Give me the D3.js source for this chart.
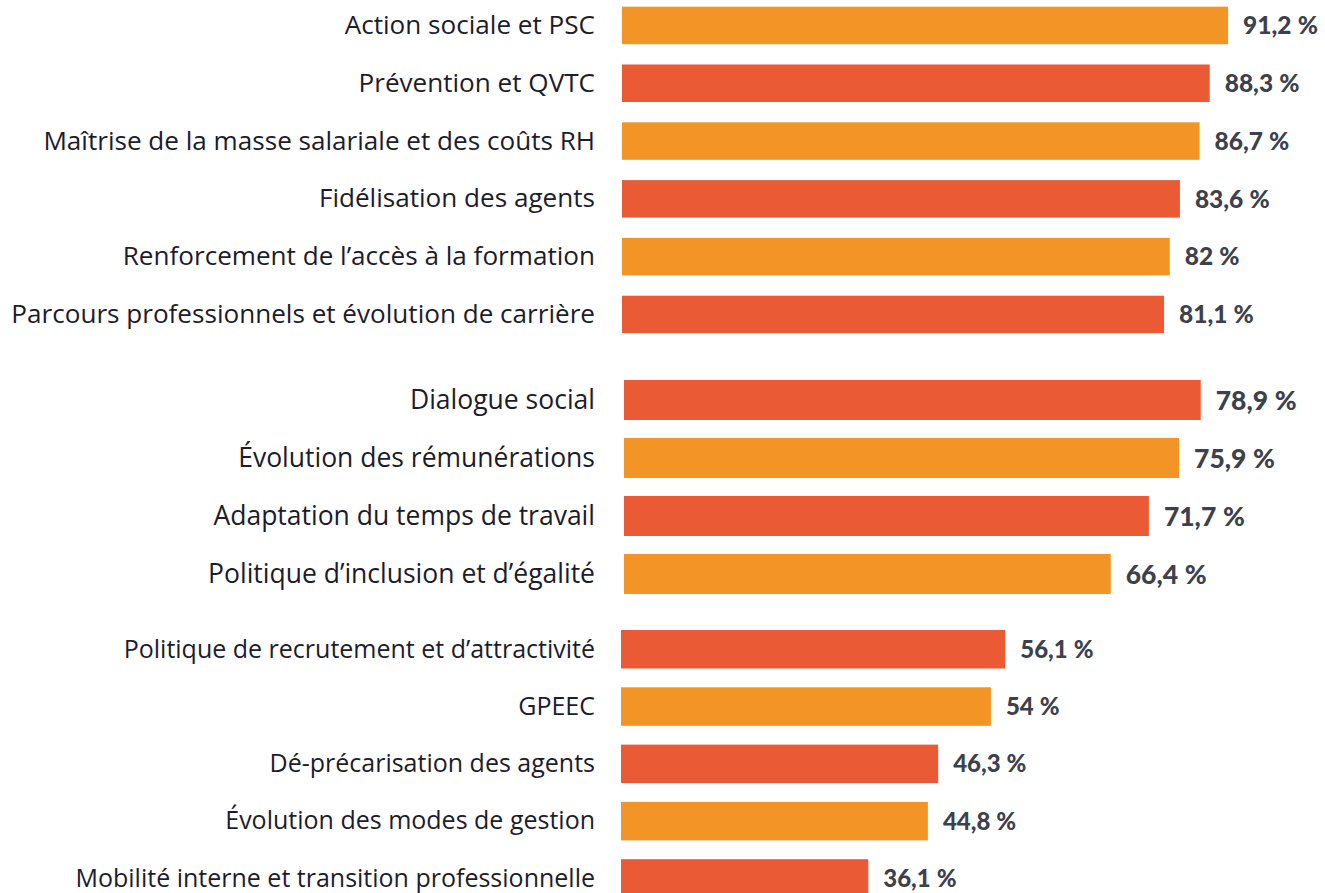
<!DOCTYPE html>
<html>
<head>
<meta charset="utf-8">
<script src="https://cdn.jsdelivr.net/npm/d3@7"></script>
<style>
  html, body { margin: 0; padding: 0; background: #fff; }
  .label { font-family: "Open Sans", "Noto Sans", sans-serif; fill: #1c1c2b; }
  .value { font-family: Lato, "Open Sans", sans-serif; font-weight: 900; fill: #3c414c; }
</style>
</head>
<body>
<div id="chart"></div>
<script>
var categories = [
  'Action sociale et PSC',
  'Prévention et QVTC',
  'Maîtrise de la masse salariale et des coûts RH',
  'Fidélisation des agents',
  'Renforcement de l\u2019accès à la formation',
  'Parcours professionnels et évolution de carrière',
  'Dialogue social',
  'Évolution des rémunérations',
  'Adaptation du temps de travail',
  'Politique d\u2019inclusion et d\u2019égalité',
  'Politique de recrutement et d\u2019attractivité',
  'GPEEC',
  'Dé-précarisation des agents',
  'Évolution des modes de gestion',
  'Mobilité interne et transition professionnelle'
];
var values = [91.2, 88.3, 86.7, 83.6, 82, 81.1, 78.9, 75.9, 71.7, 66.4, 56.1, 54, 46.3, 44.8, 36.1];
var groupOf = [0, 0, 0, 0, 0, 0, 1, 1, 1, 1, 2, 2, 2, 2, 2];

var width = 1325;
var height = 893;

// each block was laid out on its own, so each gets its own scales
var groups = [
  { x0: 622, from: -4.4, pxPer: 6.34, top: 6.7, step: 57.8, bar: 37.5, first: 'orange', labelSize: 26.1, valueSize: 24.5 },
  { x0: 624, from: -1.2, pxPer: 7.2, top: 380, step: 58, bar: 40, first: 'red', labelSize: 26.5, valueSize: 26.5 },
  { x0: 621, from: 0, pxPer: 6.85, top: 630, step: 57.3, bar: 38.5, first: 'red', labelSize: 25, valueSize: 24 }
];
var colors = { orange: '#F29426', red: '#EA5B35' };
var labelRight = 595;

var data = categories.map(function (c, i) {
  return { name: c, value: values[i], group: groupOf[i] };
});

var svg = d3.select('#chart')
  .append('svg')
  .attr('width', width)
  .attr('height', height);

groups.forEach(function (g, gi) {
  var rows = data.filter(function (d) { return d.group === gi; });
  var n = rows.length;

  var x = d3.scaleLinear()
    .domain([g.from, 100])
    .range([g.x0, g.x0 + (100 - g.from) * g.pxPer]);

  var y = d3.scaleBand()
    .domain(rows.map(function (d) { return d.name; }))
    .range([g.top, g.top + n * g.step - (g.step - g.bar)])
    .paddingInner(1 - g.bar / g.step)
    .paddingOuter(0);

  var other = g.first === 'orange' ? 'red' : 'orange';
  var block = svg.append('g').attr('class', 'group-' + gi);

  block.selectAll('rect')
    .data(rows)
    .enter()
    .append('rect')
    .attr('x', x(g.from))
    .attr('y', function (d) { return y(d.name); })
    .attr('width', function (d) { return x(d.value) - x(g.from); })
    .attr('height', y.bandwidth())
    .attr('fill', function (d, i) { return colors[i % 2 === 0 ? g.first : other]; });

  block.selectAll('text.label')
    .data(rows)
    .enter()
    .append('text')
    .attr('class', 'label')
    .attr('x', labelRight)
    .attr('y', function (d) { return y(d.name) + y.bandwidth() / 2; })
    .attr('dy', '0.33em')
    .attr('text-anchor', 'end')
    .style('font-size', g.labelSize + 'px')
    .text(function (d) { return d.name; });

  block.selectAll('text.value')
    .data(rows)
    .enter()
    .append('text')
    .attr('class', 'value')
    .attr('x', function (d) { return x(d.value) + 15; })
    .attr('y', function (d) { return y(d.name) + y.bandwidth() / 2; })
    .attr('dy', '0.36em')
    .style('font-size', g.valueSize + 'px')
    .text(function (d) { return String(d.value).replace('.', ',') + '\u202F%'; });
});
</script>
</body>
</html>
